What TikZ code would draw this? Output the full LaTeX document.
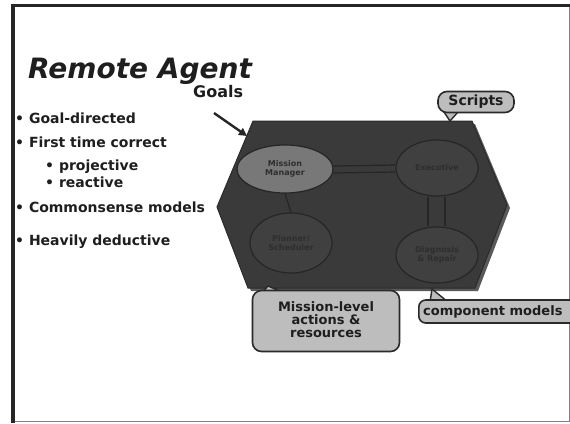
\documentclass[tikz,border=0pt]{standalone}
\usepackage{fontspec}
\setmainfont{DejaVu Sans}
\usetikzlibrary{shapes.geometric,arrows.meta}
\definecolor{hexfill}{HTML}{3A3A3A}
\definecolor{hexedge}{HTML}{2A2A2A}
\definecolor{ellfill}{HTML}{404040}
\definecolor{ellfillA}{HTML}{787878}
\definecolor{ellline}{HTML}{262626}
\definecolor{boxfill}{HTML}{BDBDBD}
\definecolor{txt}{HTML}{1E1E1E}
\definecolor{intxt}{HTML}{2E2E2E}
\tikzset{
  bullet/.style={anchor=base west,inner sep=0pt,font=\bfseries\fontsize{14}{14}\selectfont,text=txt},
  module/.style={ellipse,draw=ellline,line width=1.2pt,fill=ellfill,inner sep=0pt,align=center,
     font=\bfseries\fontsize{8}{9}\selectfont,text=intxt},
  callout/.style={draw=hexedge,line width=1.6pt,fill=boxfill,rounded corners=9pt},
  calltext/.style={align=center,inner sep=0pt,text=txt,font=\bfseries\fontsize{13}{13}\selectfont},
  link/.style={draw=ellline,line width=1.2pt},
}
\begin{document}
\begin{tikzpicture}[x=1pt,y=-1pt]
\useasboundingbox (0,0) rectangle (570,423);
\fill[white] (0,0) rectangle (570,423);
% frame
\draw[line width=0.8pt,gray] (13,421.5) -- (569,421.5) -- (569,5);
\draw[line width=3.5pt,black!85] (13,423) -- (13,5.5) -- (570,5.5);
% title
\node[anchor=base west,inner sep=0pt,text=txt,font=\bfseries\itshape\fontsize{28}{28}\selectfont] (title) at (28,78) {Remote Agent};
\node[anchor=base west,inner sep=0pt,text=txt,font=\bfseries\fontsize{16}{16}\selectfont] (goals) at (193,97) {Goals};
% bullets
\node[bullet] (b1) at (15,123) {• Goal-directed};
\node[bullet] (b2) at (15,147) {• First time correct};
\node[bullet] (b3) at (45,170) {• projective};
\node[bullet] (b4) at (45,187) {• reactive};
\node[bullet] (b5) at (15,212) {• Commonsense models};
\node[bullet] (b6) at (15,245) {• Heavily deductive};
% hexagon shadow and body
\fill[black!65] (256,124) -- (475,124) -- (510,208) -- (478,291) -- (251,291) -- (220,210) -- cycle;
\filldraw[fill=hexfill,draw=hexedge,line width=1pt] (253,121) -- (472,121) -- (507,205) -- (475,288) -- (248,288) -- (217,207) -- cycle;
\coordinate (hexL) at (247,136);
\coordinate (hexT) at (450,121);
\coordinate (hexB) at (268,286);
\coordinate (hexBR) at (432,289);
% modules
\node[module,fill=ellfillA,minimum width=96pt,minimum height=48pt] (mm) at (285,169) {Mission\\Manager};
\node[module,minimum width=82pt,minimum height=56pt] (ex) at (437,168) {Executive};
\node[module,minimum width=82pt,minimum height=60pt] (ps) at (291,243) {Planner/\\Scheduler};
\node[module,minimum width=82pt,minimum height=56pt] (mir) at (437,255) {Diagnosis\\\& Repair};
% links
\draw[link] ([yshift=-4pt]mm.east) -- ([yshift=-4pt]ex.west);
\draw[link] ([yshift=3pt]mm.east) -- ([yshift=3pt]ex.west);
\draw[link] (mm.south) -- (ps.north);
\draw[link] ([xshift=-9pt]ex.south) -- ([xshift=-9pt]mir.north);
\draw[link] ([xshift=8pt]ex.south) -- ([xshift=8pt]mir.north);
% goals arrow
\coordinate (gstart) at (214,113);
\draw[line width=2.4pt,black!85,-{Triangle[length=8pt,width=8pt]}] (gstart) -- (hexL);
% Scripts callout
\filldraw[fill=boxfill,draw=hexedge,line width=1.4pt] (444,112) -- (hexT) -- (458,112) -- cycle;
\node[callout,minimum width=76pt,minimum height=21pt,inner sep=0pt] (scripts) at (476,102) {};
\node[calltext,font=\bfseries\fontsize{14}{14}\selectfont] (scriptsT) at (scripts) {Scripts};
% Mission-level callout
\filldraw[fill=boxfill,draw=hexedge,line width=1.4pt] (262,293) -- (hexB) -- (284,293) -- cycle;
\node[callout,minimum width=147pt,minimum height=61pt,inner sep=0pt] (mlbox) at (326,321) {};
\node[calltext] (mltext) at (326,320) {Mission-level\\actions \&\\resources};
% component models callout
\filldraw[fill=boxfill,draw=hexedge,line width=1.4pt] (430,302) -- (hexBR) -- (448,302) -- cycle;
\node[callout,rounded corners=7pt,minimum width=170pt,minimum height=23pt,inner sep=0pt,anchor=west] (cmbox) at (418,311.5) {};
\node[calltext,font=\bfseries\fontsize{13}{13}\selectfont,anchor=west] (cmtext) at (423,311.5) {component models};
\end{tikzpicture}
\end{document}
